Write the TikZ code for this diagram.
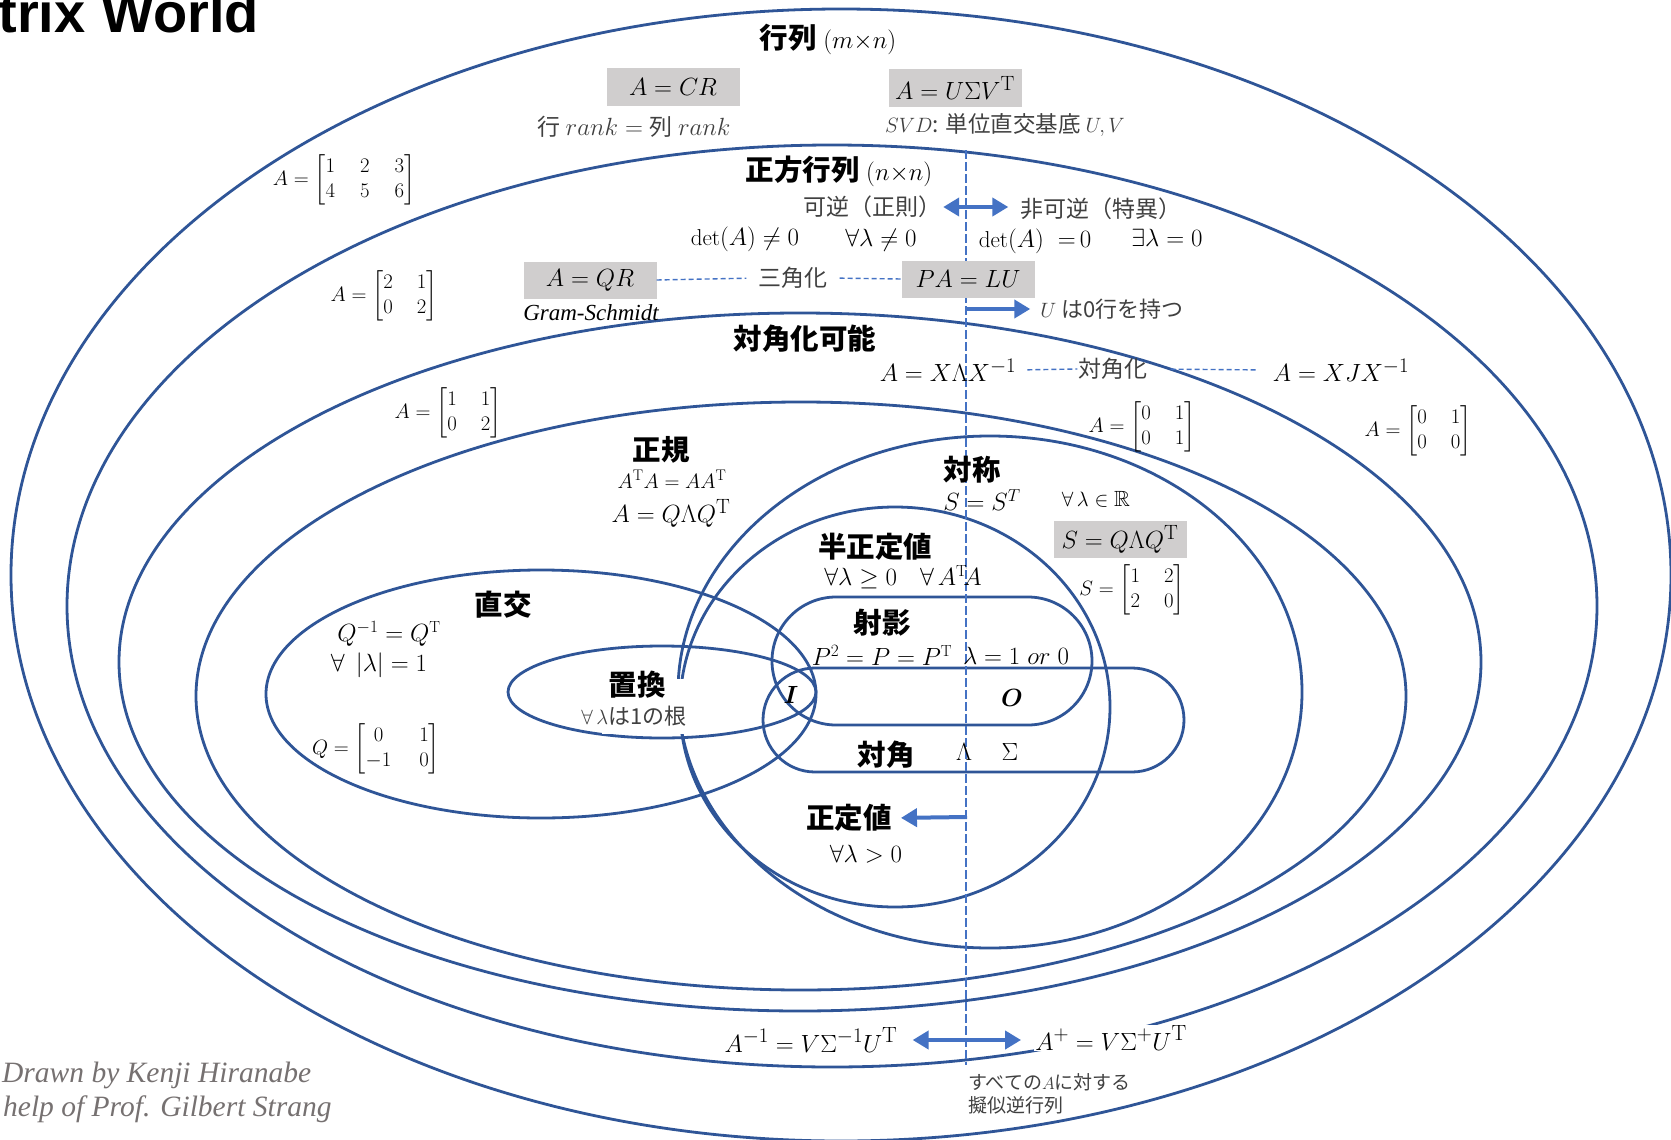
\documentclass[tikz,border=0pt]{standalone}
\usepackage{amsmath,amssymb}
\usepackage{fontspec}
\newfontfamily\cjk{Noto Sans CJK JP}
\newfontfamily\tms{Liberation Serif}
\newfontfamily\hv{Liberation Sans}
\usetikzlibrary{arrows.meta}
\definecolor{ellc}{HTML}{2F5597}
\definecolor{arr}{HTML}{4472C4}
\definecolor{boxg}{HTML}{D0CECE}
\definecolor{txtg}{HTML}{404040}
\definecolor{lg}{HTML}{767171}
\newcommand{\mtwo}[5]{\left[\begin{array}{@{}c@{\hspace{#5}}c@{}}#1&#2\\#3&#4\end{array}\right]}
\tikzset{
  ell/.style={draw=ellc, line width=2.8pt},
  ttl/.style={font=\cjk\bfseries\fontsize{28.5}{30}\selectfont, inner sep=1pt},
  jt/.style={font=\cjk\fontsize{23}{26}\selectfont, text=txtg, inner sep=1pt},
  js/.style={font=\cjk\fontsize{22}{25}\selectfont, text=txtg, inner sep=1pt},
  jp/.style={font=\cjk\fontsize{19}{22}\selectfont, text=txtg, inner sep=1pt},
  mth/.style={font=\fontsize{23}{26}\selectfont, inner sep=1pt},
  mx/.style={font=\fontsize{21}{25}\selectfont, inner sep=1pt},
  mid/.style={font=\fontsize{28.5}{31}\selectfont, inner sep=1pt},
  big/.style={font=\fontsize{29.5}{32}\selectfont, inner sep=1pt},
  bot/.style={font=\fontsize{31.5}{34}\selectfont, inner sep=1pt},
  gbox/.style={big, fill=boxg, minimum width=133pt, minimum height=37pt},
  bI/.style={font=\fontsize{29}{31}\selectfont, inner sep=1pt},
  gs/.style={font=\tms\itshape\fontsize{23}{26}\selectfont, inner sep=1pt},
  credit/.style={font=\tms\itshape\fontsize{29.5}{32}\selectfont, text=lg, inner sep=0pt, anchor=base west},
  barrow/.style={draw=arr, line width=4pt, -{Triangle[length=16pt,width=18pt]}},
  dbarrow/.style={draw=arr, line width=4pt, {Triangle[length=16pt,width=18pt]}-{Triangle[length=16pt,width=18pt]}},
  vdash/.style={draw=arr, line width=1.4pt, dash pattern=on 9pt off 3pt},
  hdash/.style={draw=arr, line width=1.4pt, dash pattern=on 5pt off 3pt},
}
\begin{document}
\begin{tikzpicture}[x=1pt,y=-1pt]
\useasboundingbox (0,0) rectangle (1671,1140);
\fill[white] (0,0) rectangle (1671,1140);

% nested sets
\draw[ell] (841,575) ellipse [x radius=830pt, y radius=566pt];
\draw[ell] (832,606) ellipse [x radius=765pt, y radius=461pt];
\draw[ell] (800,662) ellipse [x radius=681pt, y radius=349pt];
\draw[ell] (801,696) ellipse [x radius=605pt, y radius=294pt];
\draw[ell] (541,694) ellipse [x radius=275pt, y radius=124pt];
\draw[ell] (662,692) ellipse [x radius=154pt, y radius=46pt];
\draw[ell] (990,692) ellipse [x radius=312pt, y radius=256pt];
\draw[ell] (895,707) ellipse [x radius=215pt, y radius=200pt];
\draw[ell, rounded corners=64pt] (772,597) rectangle (1092,725);
\draw[ell, rounded corners=52pt] (763,668) rectangle (1184,772);

% patch behind the permutation label
\fill[white] (602,679) rectangle (700,734);

% invertible / singular divider
\coordinate (vtop) at (966,150);
\coordinate (vbot) at (966,1065);
\draw[vdash] (vtop) -- (vbot);

% title and credits
\node[font=\hv\bfseries\fontsize{56}{62}\selectfont, anchor=base east, inner sep=0pt] (title) at (259,33) {Matrix World};
\node[credit] (cred1) at (2,1082) {Drawn by Kenji Hiranabe};
\node[credit] (cred2) at (3,1116) {help of Prof. Gilbert Strang};

% all matrices
\node[ttl] (mat) at (828,39) {行列 \fontsize{24}{26}\selectfont$(m{\times}n)$};
\node[gbox] (cr) at (673,87) {$A=CR$};
\node[gbox] (svd) at (955,88) {$A=U\Sigma V^{\mathrm{T}}$};
\node[js] (rank) at (634,127) {\fontsize{23}{25}\selectfont$\text{行}\ rank=\text{列}\ rank$};
\node[js] (svd1) at (1005,125) {\fontsize{22.5}{25}\selectfont$SVD$: 単位直交基底 $U,V$};
\node[mx] (m1) at (344,180) {$A=\left[\begin{array}{@{}c@{\hspace{25pt}}c@{\hspace{25pt}}c@{}}1&2&3\\4&5&6\end{array}\right]$};

% square
\node[ttl] (sq) at (839,171) {正方行列 \fontsize{24}{26}\selectfont$(n{\times}n)$};
\node[jt] (inv) at (872,207) {可逆（正則）};
\node[jt] (sing) at (1101,209) {非可逆（特異）};
\draw[dbarrow, shorten <=1pt, shorten >=11pt] (inv.east) -- (sing.west |- inv.east);
\node[mth] (det1) at (745,239) {$\det(A)\neq 0$};
\node[mth] (lam1) at (881,240) {$\forall\lambda\neq 0$};
\node[mth] (det0) at (1035,241) {$\det(A)\ \ {=}\,0$};
\node[mth] (lam0) at (1167,238) {$\exists\lambda=0$};
\node[mx] (m2) at (384,296) {$A=\mtwo{2}{1}{0}{2}{24pt}$};
\node[gbox] (qr) at (590,280) {$A=QR$};
\node[gbox] (lu) at (968,279) {$PA=LU$};
\node[jt] (tri) at (793,278) {三角化};
\draw[hdash, shorten >=11pt] (qr.east) -- (tri.west);
\draw[hdash, shorten <=11pt] (tri.east) -- (lu.west);
\node[gs] (gram) at (591,313) {Gram-Schmidt};
\coordinate (u0) at (966,309);
\node[js] (urow) at (1112,309) {$U$ は0行を持つ};
\draw[barrow, shorten >=9pt] (u0) -- (urow.west);

% diagonalizable
\node[ttl] (diag) at (805,339) {対角化可能};
\node[mid] (xlx) at (948,370) {$A=X\Lambda X^{-1}$};
\node[jt] (dg) at (1113,369) {対角化};
\node[mid] (xjx) at (1341,370) {$A=XJX^{-1}$};
\draw[hdash, shorten <=10pt] (xlx.east) -- (dg.west);
\draw[hdash, shorten <=22pt, shorten >=14pt] (dg.east) -- (xjx.west);
\node[mx] (m3) at (448,413) {$A=\mtwo{1}{1}{0}{2}{24pt}$};
\node[mx] (m4) at (1142,427) {$A=\mtwo{0}{1}{0}{1}{24pt}$};
\node[mx] (m5) at (1418,431) {$A=\mtwo{0}{1}{0}{0}{24pt}$};

% normal
\node[ttl] (nrm) at (661,450) {正規};
\node[mth, font=\fontsize{22}{25}\selectfont] (nrm1) at (672,479) {$A^{\mathrm{T}}A=AA^{\mathrm{T}}$};
\node[big] (nrm2) at (671,513) {$A=Q\Lambda Q^{\mathrm{T}}$};

% symmetric
\node[ttl] (sym) at (972,470) {対称};
\node[mth] (sym1) at (982,500) {$S=S^{T}$};
\node[mth, font=\fontsize{22}{25}\selectfont] (sym2) at (1096,499) {$\forall\,\lambda\in\mathbb{R}$};
\node[gbox] (sym3) at (1120,539) {$S=Q\Lambda Q^{\mathrm{T}}$};
\node[mx] (sym4) at (1132,590) {$S=\mtwo{1}{2}{2}{0}{24pt}$};

% semidefinite, projection, diagonal, definite
\node[ttl] (psd) at (875,547) {半正定値};
\node[mth] (psd1) at (903,577) {$\forall\lambda\geq 0\quad\forall\,A^{\mathrm{T}}\!A$};
\node[ttl] (proj) at (882,623) {射影};
\node[mth] (proj1) at (882,655) {$P^2=P=P^{\mathrm{T}}$};
\node[mth] (proj2) at (1016,656) {$\lambda=1\ or\ 0$};
\node[bI] (eye) at (791,695) {$\boldsymbol{I}$};
\node[bI] (zero) at (1012,698) {$\boldsymbol{O}$};
\node[ttl] (dgn) at (886,755) {対角};
\node[mth] (Lam) at (964,752) {$\Lambda$};
\node[mth] (Sig) at (1010,752) {$\Sigma$};
\node[ttl] (pd) at (849,818) {正定値};
\coordinate (pd0) at (967,817);
\draw[barrow, shorten >=8pt] (pd0) -- (pd.east);
\node[mth] (pd1) at (866,854) {$\forall\lambda>0$};

% orthogonal, permutation
\node[ttl] (orth) at (503,605) {直交};
\node[mth] (orth1) at (389,634) {$Q^{-1}=Q^{\mathrm{T}}$};
\node[mth] (orth2) at (379,665) {$\forall\ \,|\lambda|=1$};
\node[mx] (orth3) at (376,749) {$Q=\mtwo{0}{1}{-1}{0}{28pt}$};
\node[ttl] (perm) at (637,685) {置換};
\node[js] (perm1) at (634,716) {$\forall\,\lambda$は1の根};

% pseudo inverse
\node[bot] (ainv) at (811,1040) {$A^{-1}=V\Sigma^{-1}U^{\mathrm{T}}$};
\node[bot, fill=white] (apl) at (1111,1038) {$A^{+}=V\Sigma^{+}U^{\mathrm{T}}$};
\draw[dbarrow, shorten <=14pt, shorten >=13pt] (ainv.east) -- (apl.west |- ainv.east);
\node[jp, anchor=west] (pinv1) at (967,1082) {すべての$A$に対する};
\node[jp, anchor=west] (pinv2) at (967,1105) {擬似逆行列};
\end{tikzpicture}
\end{document}
